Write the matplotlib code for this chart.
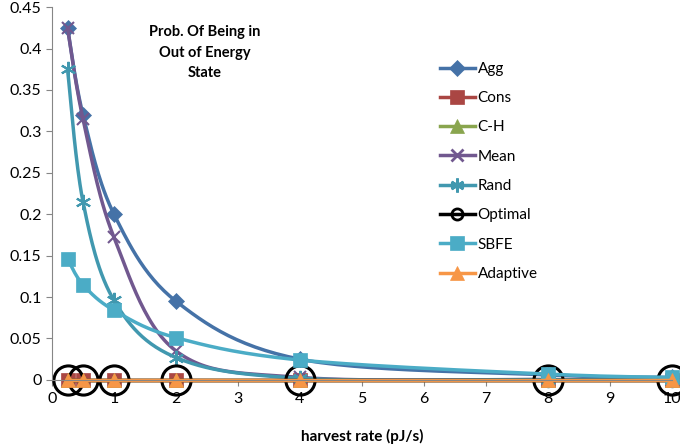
import numpy as np
import matplotlib
matplotlib.use("Agg")
import matplotlib.pyplot as plt

plt.rcParams['font.family'] = ['Lato', 'DejaVu Sans']

# harvest rates (pJ/s)
rates = [0.25, 0.5, 1, 2, 4, 8, 10]

agg = [0.425, 0.32, 0.2, 0.095, 0.025, 0.006, 0.003]
cons = [0, 0, 0, 0, 0, 0, 0]
ch = [0, 0, 0, 0, 0, 0, 0]
mean = [0.425, 0.315, 0.172, 0.035, 0.003, 0.0005, 0.0002]
rand = [0.375, 0.215, 0.096, 0.027, 0.002, 0.0003, 0.0001]
optimal = [0, 0, 0, 0, 0, 0, 0]
sbfe = [0.146, 0.115, 0.084, 0.051, 0.024, 0.007, 0.003]
adaptive = [0, 0, 0, 0, 0, 0, 0]

y_ticks = [0, 0.05, 0.1, 0.15, 0.2, 0.25, 0.3, 0.35, 0.4, 0.45]
y_labels = ['0', '0.05', '0.1', '0.15', '0.2', '0.25', '0.3', '0.35', '0.4', '0.45']
x_ticks = list(range(0, 11))


def smooth(xs, ys, n=30):
    # Excel-like smoothed line: cubic bezier with 1/6 tangent control points
    p = np.column_stack([xs, ys]).astype(float)
    p_ext = np.vstack([p[0], p, p[-1]])
    out = []
    t = np.linspace(0, 1, n)[:, None]
    for i in range(len(p) - 1):
        p0, p1, p2, p3 = p_ext[i], p_ext[i + 1], p_ext[i + 2], p_ext[i + 3]
        c1 = p1 + (p2 - p0) / 6
        c2 = p2 - (p3 - p1) / 6
        seg = ((1 - t) ** 3) * p1 + 3 * ((1 - t) ** 2) * t * c1 + 3 * (1 - t) * t ** 2 * c2 + t ** 3 * p2
        out.append(seg if i == 0 else seg[1:])
    out = np.vstack(out)
    return out[:, 0], out[:, 1]


series = [
    ('Agg', agg, '#4572A7', 'D', 8, 'full'),
    ('Cons', cons, '#AA4643', 's', 10, 'full'),
    ('C-H', ch, '#89A54E', '^', 10, 'full'),
    ('Mean', mean, '#71588F', 'x', 9, 'full'),
    ('Rand', rand, '#4198AF', (6, 2, 0), 11, 'full'),
    ('Optimal', optimal, '#000000', 'o', 21, 'none'),
    ('SBFE', sbfe, '#4BACC6', 's', 10, 'full'),
    ('Adaptive', adaptive, '#F79646', '^', 10, 'full'),
]

fig = plt.figure(figsize=(6.8, 4.48), dpi=100)
ax = fig.add_axes([0.0765, 0.152, 0.9115, 0.832])

for name, vals, color, marker, ms, fill in series:
    sx, sy = smooth(rates, vals)
    ax.plot(sx, sy, color=color, lw=2.5, solid_capstyle='round', clip_on=False)
    if fill == 'none':
        ax.plot(rates, vals, ls='none', marker=marker, ms=ms, mfc='none',
                mec=color, mew=2.2, clip_on=False)
    else:
        mew = 1.5 if marker in ('x', (6, 2, 0)) else 0.5
        ax.plot(rates, vals, ls='none', marker=marker, ms=ms, color=color,
                mec=color, mew=mew, clip_on=False)
    ax.plot([], [], color=color, lw=2.5, marker=marker,
            ms=min(ms, 10) if fill != 'none' else 8,
            mfc='none' if fill == 'none' else color, mec=color,
            mew=2 if marker in ('x', (6, 2, 0), 'o') else 0.5, label=name)

ax.set_xlim(0, 10)
ax.set_ylim(0, 0.45)
ax.set_xticks(x_ticks)
ax.set_yticks(y_ticks)
ax.set_yticklabels(y_labels)
ax.tick_params(axis='both', labelsize=11.5, color='#868686', direction='out', length=4)
ax.tick_params(axis='x', pad=5)
for s in ['top', 'right']:
    ax.spines[s].set_visible(False)
for s in ['left', 'bottom']:
    ax.spines[s].set_color('#868686')

ax.set_xlabel('harvest rate (pJ/s)', fontsize=11, fontweight='bold', labelpad=16)

ax.text(0.247, 0.952, 'Prob. Of Being in\nOut of Energy\nState', transform=ax.transAxes,
        ha='center', va='top', fontsize=10.5, fontweight='bold', linespacing=1.6)

handles, labels = ax.get_legend_handles_labels()
ax.legend(handles, labels, loc='upper left', bbox_to_anchor=(0.603, 0.89),
          frameon=False, fontsize=11, handlelength=2.3, labelspacing=1.0,
          handletextpad=0.2, numpoints=1)

fig.savefig('out.png', dpi=100)
